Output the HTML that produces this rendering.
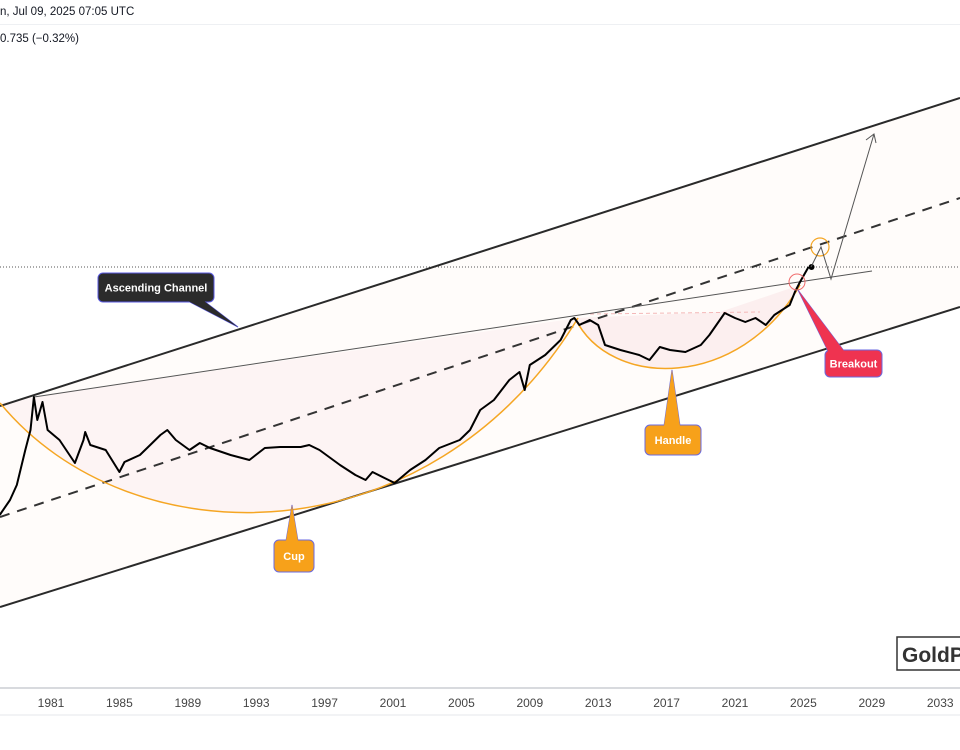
<!DOCTYPE html>
<html><head><meta charset="utf-8"><style>
html,body{margin:0;padding:0;background:#fff;}
body{width:960px;height:750px;overflow:hidden;position:relative;font-family:"Liberation Sans","DejaVu Sans",sans-serif;}
.hdr{position:absolute;left:0;font-size:11.5px;color:#131722;}
</style></head><body>
<div class="hdr" style="top:6px;left:0px;">n, Jul 09, 2025 07:05 UTC</div>
<div style="position:absolute;top:24px;left:0;width:960px;height:1px;background:#eef0f3;"></div>
<div class="hdr" style="top:33px;left:0px;">0.735 (−0.32%)</div>
<svg id="chart" width="960" height="750" style="position:absolute;left:0;top:0;">
</svg>
<script>
const years=[1978.0,1978.6,1979.0,1979.5,1979.8,1980.0,1980.2,1980.5,1980.8,1981.5,1982.4,1982.9,1983.0,1983.3,1984.2,1985.0,1985.3,1986.2,1986.8,1987.4,1987.8,1988.3,1989.1,1989.7,1990.3,1991.5,1992.6,1993.5,1994.4,1995.6,1996.1,1996.7,1997.9,1998.8,1999.4,1999.8,2000.5,2001.1,2002.0,2002.9,2003.7,2004.9,2005.5,2006.1,2006.9,2007.8,2008.4,2008.7,2009.0,2009.9,2010.8,2011.4,2011.6,2011.9,2012.5,2013.0,2013.4,2014.3,2015.4,2016.0,2016.6,2017.2,2018.1,2019.0,2019.5,2020.4,2021.0,2021.6,2022.2,2022.8,2023.3,2024.2,2024.5,2024.8,2025.3];
const priceIndex=[45,60,75,110,130,163,140,158,130,120,97,120,128,115,110,88,98,105,115,125,130,120,110,117,112,105,100,112,113,113,115,110,95,85,80,88,82,77,90,100,112,120,130,150,160,180,188,170,195,205,220,240,242,235,240,235,215,210,205,200,213,210,208,215,225,247,242,238,242,235,245,255,268,278,293];
const tickYears=[1981,1985,1989,1993,1997,2001,2005,2009,2013,2017,2021,2025,2029,2033];
const NS="http://www.w3.org/2000/svg";
const svg=document.getElementById('chart');
const xScale=yr=>51+(yr-1981)*17.1;
const yScale=v=>560-v;
function mk(tag,attrs,parent){const e=document.createElementNS(NS,tag);for(const k in attrs)e.setAttribute(k,attrs[k]);(parent||svg).appendChild(e);return e;}
let e;
e=mk('polygon',{points:'0,406 960,98 960,307 0,607',fill:'#fffcfa'});


e=mk('path',{d:'M0,403 C130,561 430,561 578,318 L34,397 Z',fill:'#fdf4f4'});


e=mk('path',{d:'M575,318 C610,390 740,390 800,285 L720,312 L575,318 Z',fill:'#fcefef'});


e=mk('line',{x1:590,y1:314,x2:760,y2:312,stroke:'#f4b8b8','stroke-width':1,'stroke-dasharray':'4 3'});


e=mk('line',{x1:0,y1:267,x2:960,y2:267,stroke:'#555','stroke-width':1,'stroke-dasharray':'1 2'});


e=mk('line',{x1:0,y1:406,x2:960,y2:98,stroke:'#2a2a2a','stroke-width':2});


e=mk('line',{x1:0,y1:607,x2:960,y2:307,stroke:'#2a2a2a','stroke-width':2});


e=mk('line',{x1:0,y1:517,x2:960,y2:198,stroke:'#333','stroke-width':2,'stroke-dasharray':'10 8'});


e=mk('line',{x1:34,y1:397,x2:872,y2:271,stroke:'#555','stroke-width':1});


e=mk('path',{d:'M0,403 C130,561 430,561 578,318',fill:'none',stroke:'#f5a623','stroke-width':1.5});


e=mk('path',{d:'M575,318 C610,390 740,390 800,285',fill:'none',stroke:'#f5a623','stroke-width':1.5});


const pts=years.map((y,i)=>xScale(y).toFixed(1)+','+yScale(priceIndex[i]).toFixed(1)).join(' ');
e=mk('polyline',{points:pts,fill:'none',stroke:'#000','stroke-width':2,'stroke-linejoin':'round'});


const lx=xScale(years[years.length-1]),ly=yScale(priceIndex[priceIndex.length-1]);
e=mk('circle',{cx:lx+3,cy:ly,r:3,fill:'#000'});


e=mk('circle',{cx:797,cy:282,r:8,fill:'none',stroke:'#f06b6b','stroke-width':1});


e=mk('circle',{cx:820,cy:247,r:9,fill:'none',stroke:'#f5a623','stroke-width':1.2});


e=mk('polyline',{points:'811,267 821,247 831,279 874,134',fill:'none',stroke:'#555','stroke-width':1});


e=mk('polyline',{points:'866,140 874,134 876,143',fill:'none',stroke:'#555','stroke-width':1});


function callout(name,x,y,w,h,tip,fill,stroke,text,color){
  const g=mk('g',{});
  
  
  mk('polygon',{points:tip,fill:fill,stroke:stroke,'stroke-width':1},g);
  mk('rect',{x:x,y:y,width:w,height:h,rx:5,fill:fill,stroke:stroke,'stroke-width':1},g);
  mk('polygon',{points:tip,fill:fill},g);
  const t=mk('text',{x:x+w/2,y:y+h/2+4,'text-anchor':'middle','font-size':11,'font-weight':'bold',fill:color,'font-family':'Liberation Sans, sans-serif'},g);
  t.textContent=text;
}
callout('ascending-channel-label',98,273,116,29,'188,301 204,301 238,327','#2b2b2b','#5a5ae0','Ascending Channel','#fff');
callout('cup-label',274,540,40,32,'286,541 298,541 292,505','#f7a11a','#6a6ae0','Cup','#fff');
callout('handle-label',645,425,56,30,'664,426 680,426 672,370','#f7a11a','#6a6ae0','Handle','#fff');
callout('breakout-label',825,350,57,27,'828,351 844,351 798,290','#ef3350','#6a6ae0','Breakout','#fff');
e=mk('line',{x1:0,y1:688,x2:960,y2:688,stroke:'#b2b5be','stroke-width':1});


e=mk('rect',{x:0,y:689,width:960,height:26,fill:'#fff'});


e=mk('line',{x1:0,y1:715,x2:960,y2:715,stroke:'#f2f3f5','stroke-width':2});


tickYears.forEach(yr=>{
  const t=mk('text',{x:xScale(yr),y:707,'text-anchor':'middle','font-size':12,fill:'#444','font-family':'Liberation Sans, sans-serif'});
  t.textContent=yr;
  
  
});
const wg=mk('g',{});


mk('rect',{x:897,y:637,width:70,height:33,fill:'#fff',stroke:'#333','stroke-width':1.5},wg);
const wt=mk('text',{x:902,y:662,'font-size':21,'font-weight':'bold',fill:'#333','font-family':'Liberation Sans, sans-serif'},wg);
wt.textContent='GoldP';
</script>
</body></html>
